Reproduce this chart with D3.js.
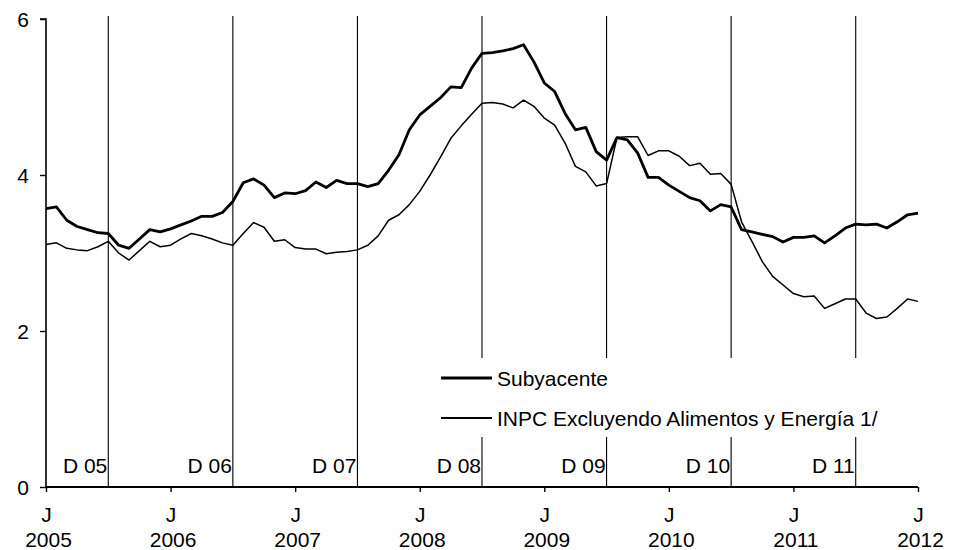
<!DOCTYPE html>
<html>
<head>
<meta charset="utf-8">
<script src="https://cdn.jsdelivr.net/npm/d3@7"></script>
<style>
  html, body { margin: 0; padding: 0; background: #fff; }
  svg { display: block; }
  text { font-family: Arial, "Liberation Sans", sans-serif; fill: #000; }
</style>
</head>
<body>
<svg id="chart" width="961" height="550"></svg>
<script>
// Monthly data, J 2005 (index 0) through J 2012 (index 84)
const subyacente = [
  3.57, 3.59, 3.42, 3.34, 3.30, 3.26, 3.25, 3.10, 3.06, 3.18, 3.30, 3.27,
  3.31, 3.36, 3.41, 3.47, 3.47, 3.52, 3.66, 3.90, 3.95, 3.87, 3.71, 3.77,
  3.76, 3.80, 3.91, 3.84, 3.93, 3.89, 3.89, 3.85, 3.89, 4.06, 4.26, 4.58,
  4.77, 4.88, 4.99, 5.13, 5.12, 5.37, 5.56, 5.57, 5.59, 5.62, 5.67, 5.45,
  5.18, 5.07, 4.79, 4.58, 4.61, 4.30, 4.19, 4.48, 4.45, 4.28, 3.97, 3.97,
  3.87, 3.79, 3.71, 3.67, 3.54, 3.62, 3.59, 3.30, 3.27, 3.24, 3.21, 3.14,
  3.20, 3.20, 3.22, 3.13, 3.22, 3.32, 3.37, 3.36, 3.37, 3.32, 3.40, 3.49,
  3.51
];
const inpcSinAE = [
  3.11, 3.13, 3.06, 3.04, 3.03, 3.08, 3.15, 3.00, 2.91, 3.03, 3.15, 3.08,
  3.10, 3.18, 3.25, 3.22, 3.18, 3.13, 3.10, 3.25, 3.39, 3.33, 3.15, 3.17,
  3.07, 3.05, 3.05, 2.99, 3.01, 3.02, 3.04, 3.10, 3.22, 3.42, 3.49, 3.62,
  3.79, 4.00, 4.23, 4.47, 4.63, 4.78, 4.92, 4.93, 4.91, 4.86, 4.96, 4.88,
  4.73, 4.64, 4.41, 4.11, 4.04, 3.86, 3.89, 4.48, 4.49, 4.49, 4.25, 4.31,
  4.31, 4.24, 4.12, 4.15, 4.01, 4.02, 3.88, 3.40, 3.15, 2.89, 2.70, 2.59,
  2.48, 2.44, 2.45, 2.29, 2.35, 2.41, 2.41, 2.23, 2.16, 2.18, 2.29, 2.41,
  2.38
];
const yearTickMonths = [0, 12, 24, 36, 48, 60, 72, 84];
const yearLabels = ["2005", "2006", "2007", "2008", "2009", "2010", "2011", "2012"];
const monthLetter = "J";
const decMonths = [6, 18, 30, 42, 54, 66, 78];
const decLabels = ["D 05", "D 06", "D 07", "D 08", "D 09", "D 10", "D 11"];
const yTicks = [0, 2, 4, 6];
const seriesNames = ["Subyacente", "INPC Excluyendo Alimentos y Energía 1/"];

const svg = d3.select("#chart");
const x = d3.scaleLinear().domain([0, 84]).range([46, 918]);
const y = d3.scaleLinear().domain([0, 6]).range([487, 19]);
const FS = 21;

// vertical December lines
svg.append("g").selectAll("line").data(decMonths).join("line")
  .attr("x1", d => x(d)).attr("x2", d => x(d))
  .attr("y1", 16).attr("y2", y(0))
  .attr("stroke", "#000").attr("stroke-width", 1.1);

// December labels
svg.append("g").selectAll("text").data(decMonths).join("text")
  .attr("x", d => x(d) - 1).attr("y", 473)
  .attr("text-anchor", "end").attr("font-size", FS)
  .text((d, i) => decLabels[i]);

// series
const line = d3.line().x((d, i) => x(i)).y(d => y(d));
svg.append("path").datum(inpcSinAE)
  .attr("d", line).attr("fill", "none").attr("stroke", "#000")
  .attr("stroke-width", 1.5).attr("stroke-linejoin", "round");
svg.append("path").datum(subyacente)
  .attr("d", line).attr("fill", "none").attr("stroke", "#000")
  .attr("stroke-width", 2.8).attr("stroke-linejoin", "round");

// legend (white box hides the vertical lines behind it)
const lg = svg.append("g");
lg.append("rect").attr("x", 432).attr("y", 358).attr("width", 470).attr("height", 79).attr("fill", "#fff");
const legendRows = [{ y: 378, w: 3 }, { y: 418, w: 1.8 }];
legendRows.forEach((r, i) => {
  lg.append("line").attr("x1", 441).attr("x2", 492).attr("y1", r.y).attr("y2", r.y)
    .attr("stroke", "#000").attr("stroke-width", r.w);
  lg.append("text").attr("x", 497).attr("y", r.y + 8).attr("font-size", FS).text(seriesNames[i]);
});

// y axis
const yAxis = d3.axisLeft(y).tickValues(yTicks).tickSize(6).tickPadding(11).tickFormat(d3.format("d"));
const gy = svg.append("g").attr("transform", `translate(${x(0)},0)`).call(yAxis);
gy.select(".domain").attr("stroke-width", 1.6).attr("d", `M-6,${y(6)}H0V${y(0)}`);
gy.selectAll(".tick line").attr("stroke-width", 1.4);
gy.selectAll(".tick text").attr("font-size", FS).attr("font-family", "Arial, 'Liberation Sans', sans-serif").attr("dy", "0.35em");

// x axis
const xAxis = d3.axisBottom(x).tickValues(yearTickMonths).tickSize(5).tickFormat(() => "");
const gx = svg.append("g").attr("transform", `translate(0,${y(0)})`).call(xAxis);
gx.select(".domain").attr("stroke-width", 1.8).attr("d", `M${x(0)},0H${x(84)}`);
gx.selectAll(".tick line").attr("stroke-width", 1.4);
gx.selectAll(".tick").append("text").attr("y", 35).attr("font-size", FS)
  .attr("text-anchor", "middle").attr("fill", "#000").text(monthLetter);
gx.selectAll(".tick").append("text").attr("x", 2).attr("y", 60).attr("font-size", FS)
  .attr("text-anchor", "middle").attr("fill", "#000").text((d, i) => yearLabels[i]);
</script>
</body>
</html>
